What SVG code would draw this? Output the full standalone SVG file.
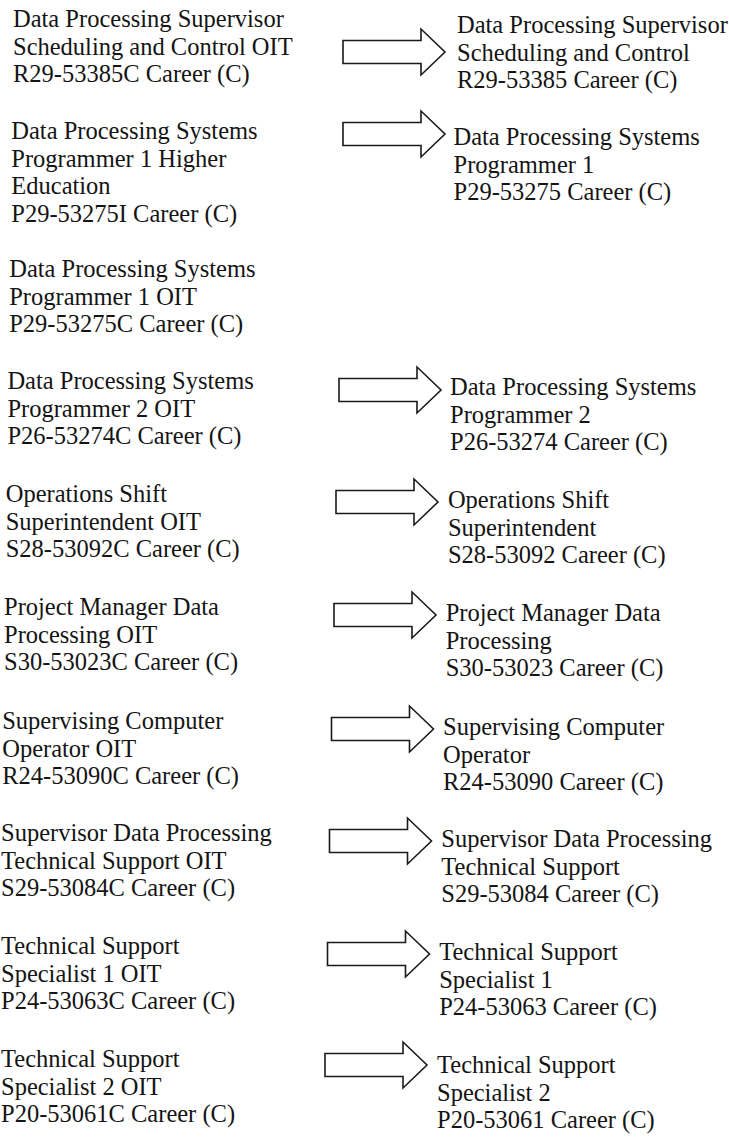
<svg xmlns="http://www.w3.org/2000/svg" xmlns:xlink="http://www.w3.org/1999/xlink" width="729" height="1137" viewBox="0 0 729 1137">
<style>
.t{font-family:"Liberation Serif","Times New Roman",serif;font-size:24.5px;fill:#141414}
.arrow{fill:#fff;stroke:#1a1a1a;stroke-width:1.6;stroke-linejoin:miter}
</style>
<defs>
<path id="arr" class="arrow" d="M-102,-11.5 H-24 V-23 L0,0 L-24,23 V11.5 H-102 Z"/>
</defs>
<rect width="729" height="1137" fill="#fff"/>
<g id="connectors">
<use xlink:href="#arr" transform="translate(445,52)"/>
<use xlink:href="#arr" transform="translate(445,134)"/>
<use xlink:href="#arr" transform="translate(441,390)"/>
<use xlink:href="#arr" transform="translate(438,502)"/>
<use xlink:href="#arr" transform="translate(436,615)"/>
<use xlink:href="#arr" transform="translate(433.5,729)"/>
<use xlink:href="#arr" transform="translate(431.5,841)"/>
<use xlink:href="#arr" transform="translate(429.5,954)"/>
<use xlink:href="#arr" transform="translate(427,1065)"/>
</g>
<g id="old1"><text class="t" x="13" y="27"><tspan x="13">Data Processing Supervisor</tspan><tspan x="13" dy="27.5">Scheduling and Control OIT</tspan><tspan x="13" dy="27.5">R29-53385C Career (C)</tspan></text></g>
<g id="new1"><text class="t" x="457" y="33"><tspan x="457">Data Processing Supervisor</tspan><tspan x="457" dy="27.5">Scheduling and Control</tspan><tspan x="457" dy="27.5">R29-53385 Career (C)</tspan></text></g>
<g id="old2"><text class="t" x="11.3" y="139"><tspan x="11.3">Data Processing Systems</tspan><tspan x="11.3" dy="27.5">Programmer 1 Higher</tspan><tspan x="11.3" dy="27.5">Education</tspan><tspan x="11.3" dy="27.5">P29-53275I Career (C)</tspan></text></g>
<g id="new2"><text class="t" x="453.5" y="145"><tspan x="453.5">Data Processing Systems</tspan><tspan x="453.5" dy="27.5">Programmer 1</tspan><tspan x="453.5" dy="27.5">P29-53275 Career (C)</tspan></text></g>
<g id="old3"><text class="t" x="9.2" y="277"><tspan x="9.2">Data Processing Systems</tspan><tspan x="9.2" dy="27.5">Programmer 1 OIT</tspan><tspan x="9.2" dy="27.5">P29-53275C Career (C)</tspan></text></g>
<g id="old4"><text class="t" x="7.4" y="389"><tspan x="7.4">Data Processing Systems</tspan><tspan x="7.4" dy="27.5">Programmer 2 OIT</tspan><tspan x="7.4" dy="27.5">P26-53274C Career (C)</tspan></text></g>
<g id="new4"><text class="t" x="450" y="395"><tspan x="450">Data Processing Systems</tspan><tspan x="450" dy="27.5">Programmer 2</tspan><tspan x="450" dy="27.5">P26-53274 Career (C)</tspan></text></g>
<g id="old5"><text class="t" x="5.7" y="502"><tspan x="5.7">Operations Shift</tspan><tspan x="5.7" dy="27.5">Superintendent OIT</tspan><tspan x="5.7" dy="27.5">S28-53092C Career (C)</tspan></text></g>
<g id="new5"><text class="t" x="447.9" y="508"><tspan x="447.9">Operations Shift</tspan><tspan x="447.9" dy="27.5">Superintendent</tspan><tspan x="447.9" dy="27.5">S28-53092 Career (C)</tspan></text></g>
<g id="old6"><text class="t" x="4" y="615"><tspan x="4">Project Manager Data</tspan><tspan x="4" dy="27.5">Processing OIT</tspan><tspan x="4" dy="27.5">S30-53023C Career (C)</tspan></text></g>
<g id="new6"><text class="t" x="445.7" y="621"><tspan x="445.7">Project Manager Data</tspan><tspan x="445.7" dy="27.5">Processing</tspan><tspan x="445.7" dy="27.5">S30-53023 Career (C)</tspan></text></g>
<g id="old7"><text class="t" x="2.2" y="729"><tspan x="2.2">Supervising Computer</tspan><tspan x="2.2" dy="27.5">Operator OIT</tspan><tspan x="2.2" dy="27.5">R24-53090C Career (C)</tspan></text></g>
<g id="new7"><text class="t" x="443" y="735"><tspan x="443">Supervising Computer</tspan><tspan x="443" dy="27.5">Operator</tspan><tspan x="443" dy="27.5">R24-53090 Career (C)</tspan></text></g>
<g id="old8"><text class="t" x="1" y="841"><tspan x="1">Supervisor Data Processing</tspan><tspan x="1" dy="27.5">Technical Support OIT</tspan><tspan x="1" dy="27.5">S29-53084C Career (C)</tspan></text></g>
<g id="new8"><text class="t" x="441.3" y="847"><tspan x="441.3">Supervisor Data Processing</tspan><tspan x="441.3" dy="27.5">Technical Support</tspan><tspan x="441.3" dy="27.5">S29-53084 Career (C)</tspan></text></g>
<g id="old9"><text class="t" x="1" y="954"><tspan x="1">Technical Support</tspan><tspan x="1" dy="27.5">Specialist 1 OIT</tspan><tspan x="1" dy="27.5">P24-53063C Career (C)</tspan></text></g>
<g id="new9"><text class="t" x="439.2" y="960"><tspan x="439.2">Technical Support</tspan><tspan x="439.2" dy="27.5">Specialist 1</tspan><tspan x="439.2" dy="27.5">P24-53063 Career (C)</tspan></text></g>
<g id="old10"><text class="t" x="1" y="1067"><tspan x="1">Technical Support</tspan><tspan x="1" dy="27.5">Specialist 2 OIT</tspan><tspan x="1" dy="27.5">P20-53061C Career (C)</tspan></text></g>
<g id="new10"><text class="t" x="437" y="1073"><tspan x="437">Technical Support</tspan><tspan x="437" dy="27.5">Specialist 2</tspan><tspan x="437" dy="27.5">P20-53061 Career (C)</tspan></text></g>
</svg>
